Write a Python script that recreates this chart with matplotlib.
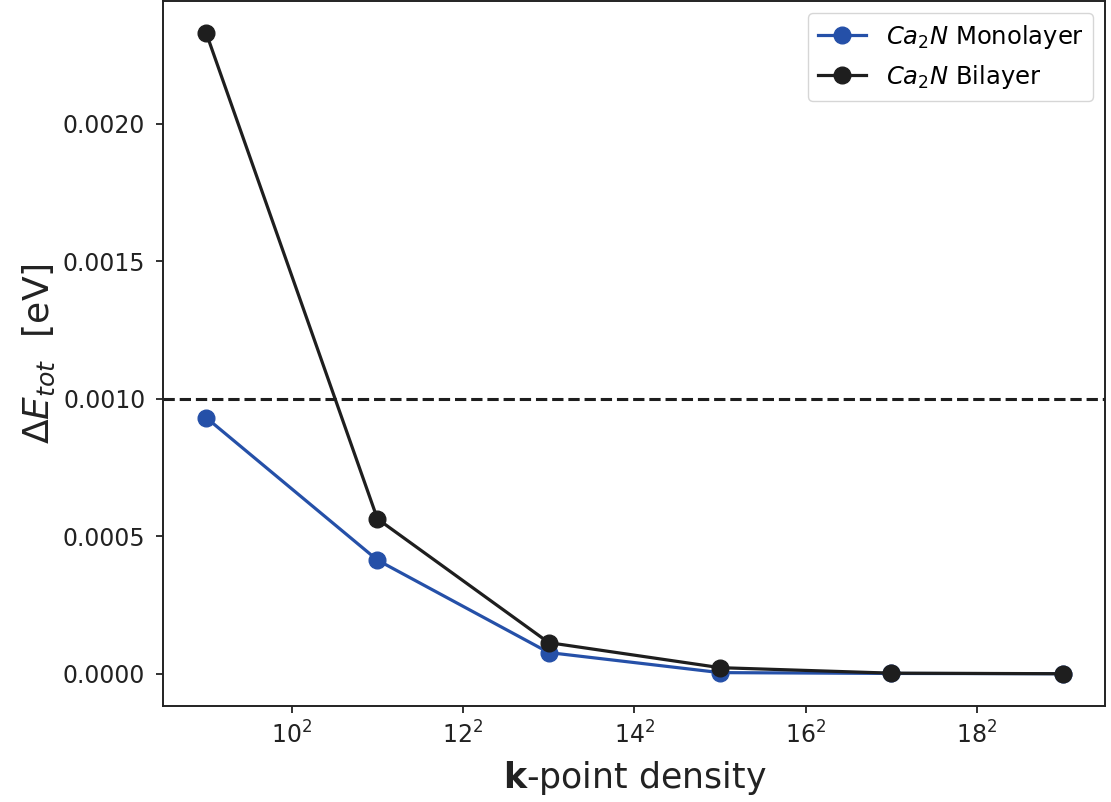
import numpy as np
import matplotlib
matplotlib.use('Agg')
import matplotlib.pyplot as plt

# k-point grid (n x n), convergence of total energy difference
kgrid = [9, 11, 13, 15, 17, 19]
mono = [0.000931, 0.000413, 0.000077, 0.000004, 0.000001, 0.0]
bilayer = [0.00233, 0.000563, 0.000113, 0.000022, 0.000002, 0.0]
xticks = [10, 12, 14, 16, 18]
xticklabels = [r'$10^2$', r'$12^2$', r'$14^2$', r'$16^2$', r'$18^2$']
threshold = 0.001

plt.rcParams['font.family'] = 'DejaVu Sans'
fig = plt.figure(figsize=(11.11, 8.02), dpi=100)
ax = fig.add_axes([0.147, 0.12, 0.848, 0.879])

ax.plot(kgrid, mono, '-o', color='#2550a8', lw=2.3, ms=12, label=r'$Ca_2N$ Monolayer')
ax.plot(kgrid, bilayer, '-o', color='#1e1e1e', lw=2.3, ms=12, label=r'$Ca_2N$ Bilayer')
ax.axhline(threshold, color='#1e1e1e', ls='--', lw=2.2)

ax.set_xticks(xticks)
ax.set_xticklabels(xticklabels)
ax.set_yticks([0.0, 0.0005, 0.0010, 0.0015, 0.0020])
ax.set_yticklabels(['0.0000', '0.0005', '0.0010', '0.0015', '0.0020'])
ax.tick_params(labelsize=17, length=5, width=1.3, color='#222222', labelcolor='#222222')
ax.tick_params(axis='y', pad=8)
ax.tick_params(axis='x', pad=6)
for s in ax.spines.values():
    s.set_linewidth(1.4)
    s.set_color('#222222')

ax.set_xlabel(r'$\mathbf{k}$-point density', fontsize=25, labelpad=8, color='#222222')
ax.set_ylabel(r'$\Delta E_{tot}$  [eV]', fontsize=26, color='#222222')
ax.legend(loc='upper right', fontsize=17.5)

fig.savefig('out.png', dpi=100)
